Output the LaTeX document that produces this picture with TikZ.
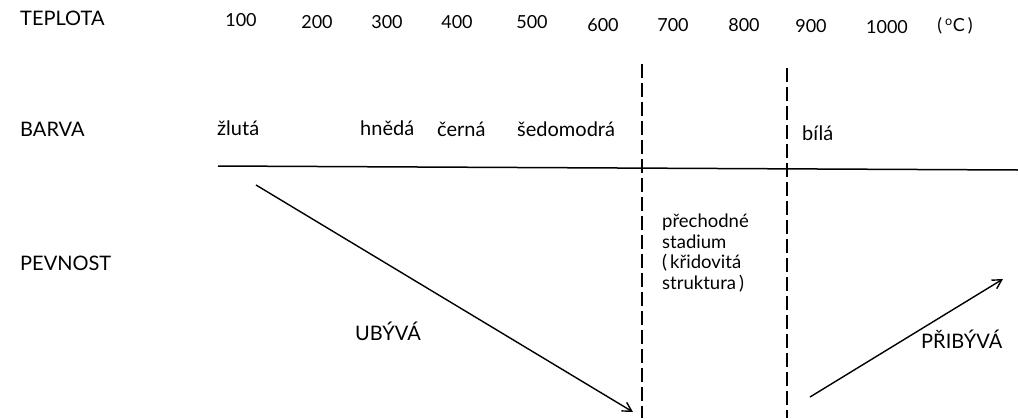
\documentclass[tikz,border=0pt]{standalone}
\usepackage{fontspec}
\setmainfont{Lato}
\usetikzlibrary{arrows.meta}
\tikzset{
  lbl/.style={anchor=west,inner sep=0pt,font=\fontsize{20}{24}\selectfont},
  num/.style={inner sep=0pt,font=\fontsize{18}{22}\selectfont},
  bound/.style={line width=1.8pt,dash pattern=on 14pt off 5pt},
  trend/.style={line width=1.4pt,-{Straight Barb[length=9pt,width=10pt]}}
}
\begin{document}
\begin{tikzpicture}[x=1pt,y=-1pt]
    \useasboundingbox (0,0) rectangle (1018,418);

    % temperature scale
    \node[lbl] (teplota) at (20,18) {TEPLOTA};
    \node[num] (t100) at (241,20) {100};
    \node[num] (t200) at (317,22) {200};
    \node[num] (t300) at (387,22) {300};
    \node[num] (t400) at (457,22) {400};
    \node[num] (t500) at (532,22) {500};
    \node[num] (t600) at (603,25) {600};
    \node[num] (t700) at (673,25) {700};
    \node[num] (t800) at (744,25) {800};
    \node[num] (t900) at (811,26) {900};
    \node[num] (t1000) at (887,27) {1000};
    \node[num] (tunit) at (955,26) {(\,\textsuperscript{o}C\,)};

    % colours
    \node[lbl] (barva) at (20,129) {BARVA};
    \node[lbl] (zluta) at (217,128) {žlutá};
    \node[lbl] (hneda) at (360,128) {hnědá};
    \node[lbl] (cerna) at (437,129) {černá};
    \node[lbl] (sedomodra) at (517,129) {šedomodrá};
    \node[lbl] (bila) at (802,133) {bílá};

    \draw[line width=1.5pt] (218,166) coordinate (hl) -- (1018,170) coordinate (hr);

    % boundaries
    \coordinate (d1t) at (642,64);
    \coordinate (d1b) at (642,418);
    \coordinate (d2t) at (787,68);
    \coordinate (d2b) at (787,418);
    \draw[bound] (d1t) -- (d1b);
    \draw[bound] (d2t) -- (d2b);

    % strength
    \node[lbl] (pevnost) at (20,263) {PEVNOST};
    \node[lbl,align=left,font=\fontsize{18.5}{20.5}\selectfont] (prechod) at (662,253)
      {přechodné\\stadium\\(\,křidovitá\\struktura\,)};

    \coordinate (a1s) at (256,185);
    \coordinate (a1e) at (633,412);
    \draw[trend] (a1s) -- (a1e);
    \node[lbl] (ubyva) at (355,331) {UBÝVÁ};

    \coordinate (a2s) at (810,397);
    \coordinate (a2e) at (1003,279);
    \draw[trend] (a2s) -- (a2e);
    \node[lbl] (pribyva) at (921,339) {PŘIBÝVÁ};
  \end{tikzpicture}
\end{document}
